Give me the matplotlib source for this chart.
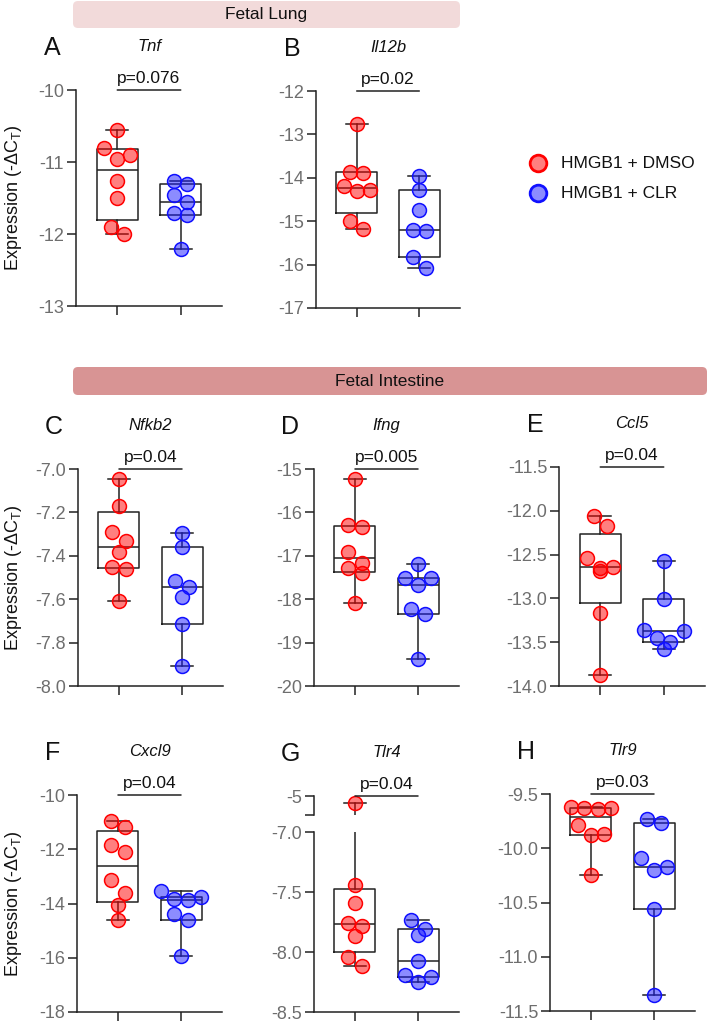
"""
Fetal lung / intestine qPCR box plots, HMGB1 + DMSO vs HMGB1 + CLR
"""
import numpy as np
import matplotlib
matplotlib.use('Agg')
from matplotlib import pyplot as plt
from matplotlib.lines import Line2D
from matplotlib.patches import FancyBboxPatch
from matplotlib.transforms import IdentityTransform, blended_transform_factory

plt.rcParams['font.family'] = ['Liberation Sans', 'DejaVu Sans']
plt.rcParams['axes.unicode_minus'] = False
plt.rcParams['mathtext.fontset'] = 'custom'
plt.rcParams['mathtext.rm'] = 'Liberation Sans'
plt.rcParams['mathtext.it'] = 'Liberation Sans:italic'

# data (-dCT)
genes = ['Tnf', 'Il12b', 'Nfkb2', 'Ifng', 'Ccl5', 'Cxcl9', 'Tlr4', 'Tlr9']
letters = ['A', 'B', 'C', 'D', 'E', 'F', 'G', 'H']
p_labels = ['p=0.076', 'p=0.02', 'p=0.04', 'p=0.005', 'p=0.04', 'p=0.04', 'p=0.04', 'p=0.03']

dmso_tnf = [-10.55, -10.80, -10.90, -10.96, -11.26, -11.50, -11.90, -12.00]
clr_tnf = [-11.27, -11.30, -11.46, -11.56, -11.71, -11.74, -12.21]
dmso_il12b = [-12.77, -13.86, -13.89, -14.18, -14.31, -14.28, -14.99, -15.17]
clr_il12b = [-13.95, -14.28, -14.75, -15.20, -15.22, -15.83, -16.08]
dmso_nfkb2 = [-7.046, -7.169, -7.289, -7.333, -7.384, -7.45, -7.46, -7.61]
clr_nfkb2 = [-7.297, -7.358, -7.515, -7.544, -7.588, -7.714, -7.908]
dmso_ifng = [-15.24, -16.30, -16.33, -16.92, -17.16, -17.29, -17.40, -18.09]
clr_ifng = [-17.20, -17.50, -17.52, -17.67, -18.23, -18.33, -19.38]
dmso_ccl5 = [-12.06, -12.17, -12.54, -12.64, -12.65, -12.69, -13.17, -13.88]
clr_ccl5 = [-12.57, -13.01, -13.36, -13.37, -13.45, -13.50, -13.58]
dmso_cxcl9 = [-10.96, -11.17, -11.85, -12.10, -13.15, -13.60, -14.04, -14.59]
clr_cxcl9 = [-13.54, -13.75, -13.85, -13.88, -14.38, -14.59, -15.93]
dmso_tlr4 = [-5.35, -7.44, -7.59, -7.76, -7.78, -7.87, -8.04, -8.12]
clr_tlr4 = [-7.73, -7.81, -7.86, -8.075, -8.19, -8.21, -8.25]
dmso_tlr9 = [-9.62, -9.63, -9.63, -9.64, -9.79, -9.87, -9.88, -10.25]
clr_tlr9 = [-9.73, -9.77, -10.09, -10.17, -10.20, -10.56, -11.35]

dmso_sets = [dmso_tnf, dmso_il12b, dmso_nfkb2, dmso_ifng, dmso_ccl5, dmso_cxcl9, dmso_tlr4, dmso_tlr9]
clr_sets = [clr_tnf, clr_il12b, clr_nfkb2, clr_ifng, clr_ccl5, clr_cxcl9, clr_tlr4, clr_tlr9]

y_limits = [(-13, -10), (-17, -12), (-8.0, -7.0), (-20, -15), (-14.0, -11.5),
            (-18, -10), (-8.5, -7.0), (-11.5, -9.5)]
y_steps = [1, 1, 0.2, 1, 0.5, 2, 0.5, 0.5]
y_fmt = ['%d', '%d', '%.1f', '%d', '%.1f', '%d', '%.1f', '%.1f']
tlr4_break = (-6.0, -5.0)

W, H = 708, 1022
# axes boxes in pixels: left, right, top, bottom
boxes = [(76, 222, 90, 306), (316, 460, 91, 308),
         (78, 223, 469, 686), (314, 459, 469, 686), (559, 705, 467, 686),
         (77, 222, 795, 1012), (314, 459, 832, 1012), (550, 695, 794, 1011)]

RED = 'red'
BLUE = '#1010ff'
RED_FACE = (1, 0, 0, 0.5)
BLUE_FACE = (0.1, 0.1, 1, 0.5)
INK = '#222222'
GREY = '#6e6e6e'
MS = 10  # marker diameter, points


def add_axes_px(left, right, top, bottom):
    return fig.add_axes([left / W, 1 - bottom / H, (right - left) / W, (bottom - top) / H])


def style_axes(ax):
    for side in ('top', 'right'):
        ax.spines[side].set_visible(False)
    for side in ('left', 'bottom'):
        ax.spines[side].set_linewidth(1.1)
        ax.spines[side].set_color(INK)
    ax.tick_params(axis='both', length=6.5, width=1.1, color=INK, labelsize=13,
                   labelcolor=GREY, pad=2)
    ax.patch.set_alpha(0)


def scatter_offsets(ax, values, center):
    """GraphPad-like layout: points close in y share a row, spread symmetrically"""
    diam = MS * fig.dpi / 72.0
    lane = 0.95 * diam
    ys = ax.transData.transform(np.column_stack([np.full(len(values), center), values]))[:, 1]
    order = list(np.argsort(-np.asarray(values)))
    offs = np.zeros(len(values))
    while order:
        row = [order.pop(0)]
        while order and ys[row[0]] - ys[order[0]] < 0.9 * diam:
            row.append(order.pop(0))
        n = len(row)
        slots = [(j - (n - 1) / 2.0) for j in range(n)]
        # outer slots first (alternating sides), centre last
        slots.sort(key=lambda s: (-abs(s), s))
        for idx, s in zip(row, slots):
            offs[idx] = s * lane
    x0, x1 = ax.get_xlim()
    return offs * (x1 - x0) / ax.get_window_extent().width


def box_stats(values):
    q1, med, q3 = np.percentile(values, [25, 50, 75], method='weibull')
    return dict(med=med, q1=q1, q3=q3, whislo=min(values), whishi=max(values), fliers=[])


def draw_boxes(ax, dmso, clr):
    line = dict(color=INK, linewidth=1.1)
    ax.bxp([box_stats(dmso), box_stats(clr)], positions=[0, 1], widths=0.65,
           capwidths=0.35, showfliers=False, manage_ticks=False,
           boxprops=line, whiskerprops=line, capprops=line, medianprops=line)


fig = plt.figure(figsize=(W / 100, H / 100), dpi=100)

for k in range(8):
    l, r, t, b = boxes[k]
    ax = add_axes_px(l, r, t, b)
    style_axes(ax)
    ax.set_xlim(-0.65, 1.65)
    ax.set_ylim(*y_limits[k])
    lo, hi = y_limits[k]
    ticks = np.arange(lo, hi + y_steps[k] / 2, y_steps[k])
    ax.set_yticks(ticks)
    ax.set_yticklabels([y_fmt[k] % v for v in ticks])
    ax.set_xticks([0, 1])
    ax.set_xticklabels([])

    top_ax = ax
    top_px = t
    if genes[k] == 'Tlr4':
        # broken axis: small segment above for the outlier
        top_px = 796
        top_ax = add_axes_px(l, r, top_px, 815)
        style_axes(top_ax)
        top_ax.spines['bottom'].set_visible(False)
        top_ax.set_xlim(-0.65, 1.65)
        top_ax.set_ylim(*tlr4_break)
        top_ax.set_yticks(list(tlr4_break))
        top_ax.set_yticklabels(['', '-5'])
        top_ax.set_xticks([])
        draw_boxes(top_ax, dmso_sets[k], clr_sets[k])
    draw_boxes(ax, dmso_sets[k], clr_sets[k])

    for pos, vals, fc, ec in ((0, dmso_sets[k], RED_FACE, RED), (1, clr_sets[k], BLUE_FACE, BLUE)):
        vals = np.asarray(vals)
        xs = pos + scatter_offsets(ax, vals, pos)
        low = vals <= ax.get_ylim()[1]
        ax.scatter(xs[low], vals[low], s=MS ** 2, facecolor=fc, edgecolor=ec,
                   linewidth=1.1, zorder=3, clip_on=False)
        if (~low).any():
            top_ax.scatter(xs[~low], vals[~low], s=MS ** 2, facecolor=fc, edgecolor=ec,
                           linewidth=1.1, zorder=3, clip_on=False)

    # significance bar, p-value, gene name, panel letter
    tr = blended_transform_factory(top_ax.transData, top_ax.transAxes)
    top_ax.annotate('', xy=(0, 1), xytext=(1, 1), xycoords=tr, textcoords=tr,
                    arrowprops=dict(arrowstyle='-', color=INK, lw=1.1,
                                    shrinkA=0, shrinkB=0), annotation_clip=False)
    top_ax.annotate(p_labels[k], xy=(0.5, 1), xycoords=tr, xytext=(0, 3),
                    textcoords='offset points', ha='center', va='bottom',
                    fontsize=12.5, color='#111111', annotation_clip=False)
    top_ax.annotate(genes[k], xy=(0.5, 1), xycoords=tr, xytext=(0, 31),
                    textcoords='offset points', ha='center', va='center',
                    fontsize=12, style='italic', color='#111111', annotation_clip=False)
    fig.text((l - 24) / W, 1 - (top_px - 42) / H, letters[k], ha='center', va='center',
             fontsize=18, color='#111111')

# y labels
for t, b in ((90, 306), (469, 686), (795, 1012)):
    fig.text(14 / W, 1 - (t + b) / 2 / H, r'Expression (-$\Delta$C$_\mathrm{T}$)',
             rotation=90, ha='center', va='center', fontsize=13, color='#111111')

# section headers
for (x0, x1, y0, y1, fc, txt) in ((73, 460, 1, 28, '#f2dada', 'Fetal Lung'),
                                  (73, 707, 367, 395, '#d89494', 'Fetal Intestine')):
    fig.add_artist(FancyBboxPatch((x0, H - y1), x1 - x0, y1 - y0,
                                  boxstyle='round,pad=0,rounding_size=5',
                                  transform=IdentityTransform(), fc=fc, ec='none'))
    fig.text((x0 + x1) / 2 / W, 1 - (y0 + y1) / 2 / H, txt, ha='center', va='center',
             fontsize=12.5, color='#111111')

# legend
for y, fc, ec, txt in ((163, RED_FACE, RED, 'HMGB1 + DMSO'), (193, BLUE_FACE, BLUE, 'HMGB1 + CLR')):
    fig.add_artist(Line2D([538 / W], [1 - y / H], transform=fig.transFigure, marker='o',
                          ms=12, mfc=fc, mec=ec, mew=2, ls=''))
    fig.text(561 / W, 1 - y / H, txt, ha='left', va='center', fontsize=12.5, color='#111111')

plt.savefig('out.png', dpi=100)
